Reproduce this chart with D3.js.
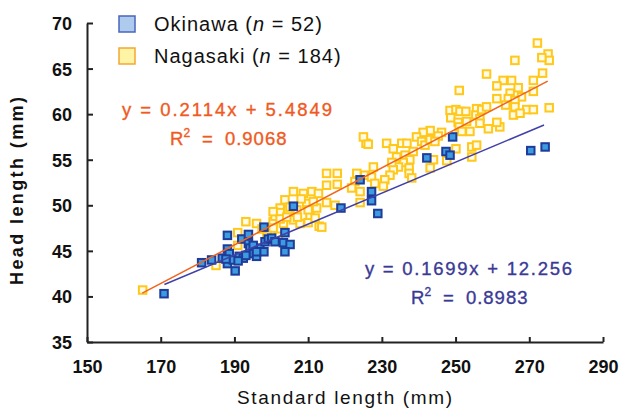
<!DOCTYPE html>
<html>
<head>
<meta charset="utf-8">
<script src="https://cdn.jsdelivr.net/npm/d3@7"></script>
<style>
  body { margin: 0; background: #fff; }
  svg { display: block; }
  .tick text { font-family: 'Liberation Sans', Arial, sans-serif; font-weight: bold; font-size: 18px; fill: #111; }
  .domain, .tick line { stroke: #222; stroke-width: 2px; }
</style>
</head>
<body>
<svg class="chart"></svg>
<script>
// standard length (mm), head length (mm)
const okinawa = [
  [170.9, 40.3], [181.1, 43.7], [183.8, 44.0], [186.7, 44.2], [188.1, 46.7], [188.1, 45.2],
  [188.6, 44.7], [190.2, 42.8], [188.1, 43.6], [189.7, 44.0], [191.3, 44.4], [192.4, 44.2],
  [192.0, 46.3], [193.8, 46.8], [193.8, 45.8], [194.2, 45.3], [195.1, 44.7], [196.0, 44.4],
  [196.9, 45.3], [198.0, 44.9], [198.0, 47.6], [198.3, 46.0], [199.2, 46.3], [200.1, 46.4],
  [201.0, 46.0], [203.7, 47.0], [203.3, 45.9], [205.1, 45.7], [203.7, 44.9], [206.0, 49.9],
  [195.1, 45.6], [196.0, 44.9], [193.1, 44.5], [191.0, 43.9], [187.7, 44.1], [224.1, 52.8],
  [227.2, 51.5], [227.2, 50.5], [228.9, 49.1], [218.9, 49.7], [242.2, 55.2], [247.4, 55.9],
  [248.5, 55.5], [249.2, 57.5], [270.4, 56.0], [274.3, 56.4]
]

const nagasaki = [
  [165.1, 40.7], [185.0, 43.4], [190.9, 47.0], [190.9, 45.6], [193.1, 48.2], [196.0, 48.0],
  [200.5, 48.2], [201.0, 48.8], [203.3, 48.0], [206.0, 48.4], [207.8, 48.0], [210.0, 48.1],
  [213.0, 47.7], [210.5, 48.9], [202.4, 49.7], [202.4, 49.2], [204.6, 49.5], [206.9, 49.5],
  [209.6, 50.2], [212.3, 49.7], [203.7, 50.6], [206.0, 51.5], [208.7, 51.3], [211.0, 51.5],
  [212.8, 51.3], [200.5, 49.3], [202.4, 48.5], [204.2, 48.7], [207.1, 48.7], [208.1, 50.7],
  [210.0, 49.5], [211.9, 48.6], [200.5, 47.5], [198.8, 46.7], [201.9, 46.6], [211.4, 50.4],
  [205.1, 49.8], [197.5, 47.4], [215.0, 53.5], [217.9, 53.5], [217.9, 52.3], [215.0, 52.2],
  [223.2, 53.5], [225.4, 53.3], [222.7, 52.6], [221.8, 51.9], [224.1, 51.5], [224.1, 50.3],
  [215.0, 50.3], [217.3, 50.0], [225.7, 56.8], [225.0, 57.5], [226.3, 56.7], [213.7, 47.6],
  [251.0, 62.6], [248.5, 60.4], [250.1, 60.5], [251.2, 60.3], [252.8, 60.3], [255.7, 60.6],
  [255.5, 59.9], [248.7, 59.6], [250.7, 59.1], [251.0, 58.6], [253.0, 59.2], [251.7, 58.1],
  [253.9, 58.1], [254.4, 56.4], [255.7, 56.6], [250.1, 56.2], [246.2, 58.0], [245.3, 57.6],
  [243.1, 58.2], [241.2, 58.0], [239.4, 57.5], [240.8, 57.0], [241.7, 56.6], [243.1, 57.2],
  [244.4, 57.0], [231.3, 56.8], [233.1, 56.2], [235.4, 56.8], [236.8, 56.8], [236.3, 55.5],
  [238.5, 55.9], [237.6, 55.0], [235.8, 54.7], [234.5, 54.2], [233.1, 53.9], [232.2, 53.3],
  [230.8, 52.8], [237.4, 54.1], [237.4, 53.5], [243.1, 54.1], [244.0, 55.0], [230.4, 52.1],
  [227.7, 54.2], [227.2, 53.1], [228.1, 52.4], [247.6, 54.9], [254.4, 55.3], [238.1, 53.0],
  [234.0, 55.3], [232.7, 54.7], [272.2, 67.8], [275.1, 66.6], [275.4, 65.9], [273.4, 66.2],
  [266.1, 65.9], [258.4, 64.4], [273.6, 64.5], [271.1, 63.7], [262.9, 63.7], [265.2, 63.7],
  [261.2, 63.1], [267.0, 62.9], [271.1, 62.5], [264.8, 62.3], [261.2, 61.7], [264.3, 61.7],
  [267.9, 61.9], [266.1, 61.5], [263.6, 61.0], [266.1, 60.8], [269.3, 60.5], [271.1, 60.5],
  [275.4, 60.7], [265.7, 59.9], [267.5, 60.1], [257.1, 60.5], [258.4, 60.8], [256.6, 59.5],
  [256.6, 59.0], [258.9, 58.4], [262.0, 58.6], [261.2, 59.1]
]

// regression fits: [slope, intercept, xStart, xEnd]
const fitNagasaki = [0.2114, 5.4849, 165, 275]
const fitOkinawa = [0.1699, 12.256, 171, 274]

const xTicks = [150, 170, 190, 210, 230, 250, 270, 290]
const yTicks = [35, 40, 45, 50, 55, 60, 65, 70]

const width = 620
const height = 408

const x = d3.scaleLinear().domain([150, 290]).range([87, 603])
const y = d3.scaleLinear().domain([35, 70]).range([342, 23])

const chart = d3.select('.chart')
  .attr('width', width)
  .attr('height', height)

chart.append('g')
  .attr('transform', `translate(0,${y(35)})`)
  .call(d3.axisBottom(x).tickValues(xTicks).tickSizeInner(-5).tickSizeOuter(0).tickPadding(18))

chart.append('g')
  .attr('transform', `translate(${x(150)},0)`)
  .call(d3.axisLeft(y).tickValues(yTicks).tickSizeInner(-6).tickSizeOuter(0).tickPadding(15))
  .call(g => g.selectAll('.tick text').attr('dy', '0.36em'))

const line = d3.line().x(d => x(d[0])).y(d => y(d[1]))
const fitPoints = f => [[f[2], f[0] * f[2] + f[1]], [f[3], f[0] * f[3] + f[1]]]

const size = 7.5

chart.append('g').selectAll('rect')
  .data(nagasaki)
  .enter()
  .append('rect')
  .attr('x', d => x(d[0]) - size / 2)
  .attr('y', d => y(d[1]) - size / 2)
  .attr('width', size)
  .attr('height', size)
  .attr('fill', '#fffbe6')
  .attr('stroke', '#ffc81a')
  .attr('stroke-width', 2)

chart.append('g').selectAll('rect')
  .data(okinawa)
  .enter()
  .append('rect')
  .attr('x', d => x(d[0]) - size / 2)
  .attr('y', d => y(d[1]) - size / 2)
  .attr('width', size)
  .attr('height', size)
  .attr('fill', '#3d9be0')
  .attr('stroke', '#1e3c9a')
  .attr('stroke-width', 2)

chart.append('path')
  .attr('d', line(fitPoints(fitNagasaki)))
  .attr('stroke', '#f0641e')
  .attr('stroke-width', 1.5)
  .attr('fill', 'none')

chart.append('path')
  .attr('d', line(fitPoints(fitOkinawa)))
  .attr('stroke', '#4040a8')
  .attr('stroke-width', 1.5)
  .attr('fill', 'none')

// equations
const eqFont = "'Liberation Sans', Arial, sans-serif"
const equation = (txt, r2, color, x0, base, len, rx) => {
  chart.append('text')
    .attr('x', x0).attr('y', base)
    .attr('textLength', len).attr('lengthAdjust', 'spacing')
    .attr('font-family', eqFont).attr('font-size', 18.5).attr('fill', color)
    .attr('stroke', color).attr('stroke-width', 0.35)
    .text(txt)
  const t = chart.append('text')
    .attr('x', rx).attr('y', base + 29)
    .attr('font-family', eqFont).attr('font-size', 18.5).attr('fill', color)
    .attr('stroke', color).attr('stroke-width', 0.35)
  t.append('tspan').text('R')
  t.append('tspan').attr('font-size', 12).attr('dy', -8).text('2')
  t.append('tspan').attr('dy', 8).attr('dx', 12).text('=')
  t.append('tspan').attr('dx', 12).attr('letter-spacing', 1).text(r2)
}
equation('y = 0.2114x + 5.4849', '0.9068', '#f05a1e', 122, 116, 210, 170)
equation('y = 0.1699x + 12.256', '0.8983', '#3a3a96', 365, 275, 207, 411)

// legend
const legend = [
  { label: 'Okinawa', n: 52, fill: '#aecbee', stroke: '#4a66b8' },
  { label: 'Nagasaki', n: 184, fill: '#fff3a6', stroke: '#f2a833' }
]
const lg = chart.append('g').selectAll('g')
  .data(legend)
  .enter()
  .append('g')
  .attr('transform', (d, i) => `translate(119,${16 + i * 32})`)
lg.append('rect')
  .attr('width', 16).attr('height', 16)
  .attr('fill', d => d.fill).attr('stroke', d => d.stroke).attr('stroke-width', 1.5)
const lt = lg.append('text')
  .attr('x', 35).attr('y', 15)
  .attr('letter-spacing', 1)
  .attr('font-family', eqFont).attr('font-size', 20).attr('fill', '#111')
lt.append('tspan').text(d => `${d.label} (`)
lt.append('tspan').attr('font-style', 'italic').text('n')
lt.append('tspan').text(d => ` = ${d.n})`)

// axis titles
chart.append('text')
  .attr('x', 237).attr('y', 404)
  .attr('textLength', 215).attr('lengthAdjust', 'spacing')
  .attr('font-family', eqFont).attr('font-size', 19)
  .attr('fill', '#111')
  .text('Standard length (mm)')

chart.append('text')
  .attr('transform', 'translate(23,285) rotate(-90)')
  .attr('textLength', 188).attr('lengthAdjust', 'spacing')
  .attr('font-family', eqFont).attr('font-size', 18).attr('font-weight', 'bold')
  .attr('fill', '#111')
  .text('Head length (mm)')
</script>
</body>
</html>
